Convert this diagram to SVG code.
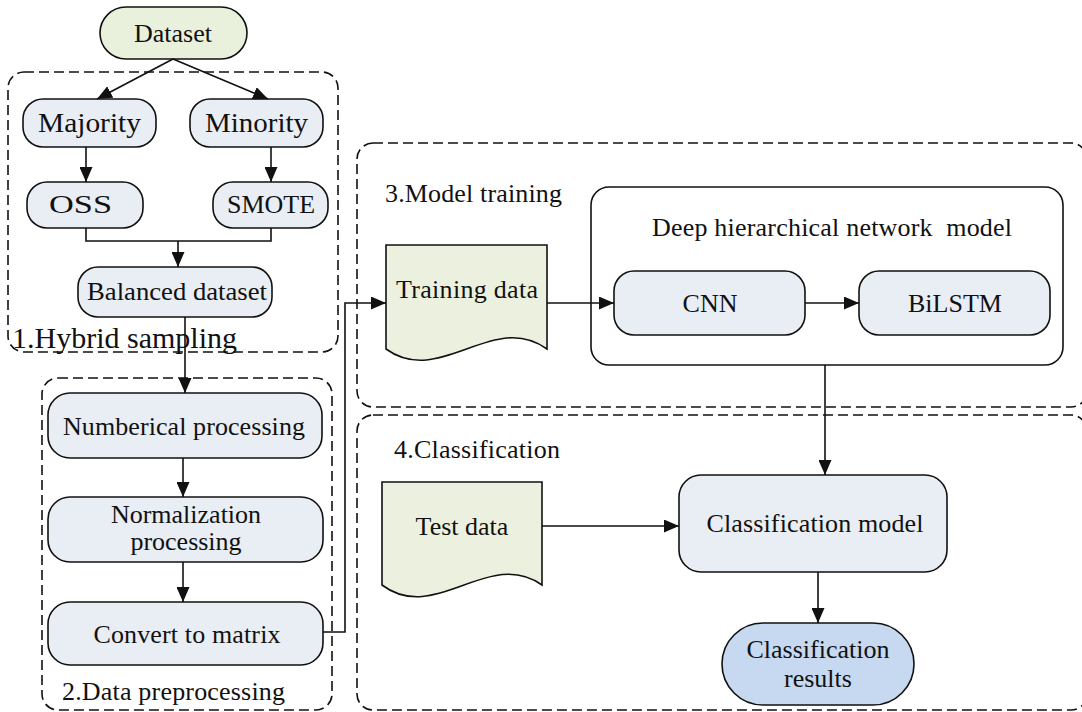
<svg xmlns="http://www.w3.org/2000/svg" width="1082" height="712" viewBox="0 0 1082 712">
<style>
text{font-family:"Liberation Serif","Times New Roman",serif;font-size:26px;fill:#111;text-anchor:middle}
.grp{fill:none;stroke:#111;stroke-width:1.6;stroke-dasharray:10 5}
.node{fill:#e9edf4;stroke:#111;stroke-width:1.6}
.green{fill:#e9f0dc;stroke:#111;stroke-width:1.6}
.doc{fill:#ebf1de;stroke:#111;stroke-width:1.6}
.res{fill:#c6d9f0;stroke:#111;stroke-width:1.6}
.plain{fill:#fff;stroke:#111;stroke-width:1.6}
.lbl{text-anchor:start}
.c{fill:none;stroke:#111;stroke-width:1.6}
</style>
<defs>
<marker id="ah" markerUnits="userSpaceOnUse" markerWidth="16" markerHeight="13" refX="15" refY="6.5" orient="auto">
<path d="M0,0 L15,6.5 L0,13 z" fill="#111"/>
</marker>
</defs>
<rect width="1082" height="712" fill="#fff"/>

<g id="group1"><rect class="grp" x="8" y="72" width="330" height="280" rx="16"/><text class="lbl" x="12" y="348" style="font-size:30px">1.Hybrid sampling</text></g>
<g id="group2"><rect class="grp" x="42" y="378" width="290" height="332" rx="16"/><text class="lbl" x="62" y="700" textLength="223">2.Data preprocessing</text></g>
<g id="group3"><rect class="grp" x="357" y="143" width="730" height="264" rx="16"/><text class="lbl" x="385" y="202" textLength="177">3.Model training</text></g>
<g id="group4"><rect class="grp" x="357" y="415" width="730" height="295" rx="16"/><text class="lbl" x="394" y="458" textLength="166">4.Classification</text></g>

<g id="dataset"><rect class="green" x="100" y="7" width="147" height="52" rx="26"/><text x="173" y="42">Dataset</text></g>
<g id="majority"><rect class="node" x="23" y="99" width="133" height="48" rx="20"/><text x="89.5" y="132" style="font-size:28px" textLength="103" lengthAdjust="spacingAndGlyphs">Majority</text></g>
<g id="minority"><rect class="node" x="190" y="99" width="133" height="48" rx="20"/><text x="256.5" y="132" style="font-size:28px" textLength="103" lengthAdjust="spacingAndGlyphs">Minority</text></g>
<g id="oss"><rect class="node" x="27" y="182" width="116" height="46" rx="20"/><text x="80.5" y="213" textLength="63" lengthAdjust="spacingAndGlyphs">OSS</text></g>
<g id="smote"><rect class="node" x="213" y="182" width="115" height="46" rx="20"/><text x="271" y="213" textLength="88" lengthAdjust="spacingAndGlyphs">SMOTE</text></g>
<g id="balanced"><rect class="node" x="78" y="267" width="194" height="50" rx="20"/><text x="177" y="300" style="font-size:25px" textLength="180" lengthAdjust="spacingAndGlyphs">Balanced dataset</text></g>

<g id="numerical"><rect class="node" x="48" y="393" width="274" height="65" rx="22"/><text x="184" y="435" textLength="242">Numberical processing</text></g>
<g id="normalization"><rect class="node" x="48" y="497" width="275" height="65" rx="22"/><text x="186" y="523">Normalization</text><text x="186" y="550">processing</text></g>
<g id="convert"><rect class="node" x="48" y="602" width="275" height="63" rx="22"/><text x="187" y="643" textLength="187">Convert to matrix</text></g>

<g id="training"><path class="doc" d="M386,245 H547 V349 C493,310 440,388 386,349 Z"/><text x="467" y="298" textLength="142">Training data</text></g>
<g id="deepmodel"><rect class="plain" x="591" y="187" width="472" height="178" rx="18"/><text x="832" y="236" textLength="360" xml:space="preserve">Deep hierarchical network  model</text></g>
<g id="cnn"><rect class="node" x="614" y="271" width="191" height="64" rx="20"/><text x="710" y="312">CNN</text></g>
<g id="bilstm"><rect class="node" x="859" y="271" width="191" height="64" rx="20"/><text x="955" y="312">BiLSTM</text></g>

<g id="testdata"><path class="doc" d="M382,482 H542 V585 C489,547 435,625 382,585 Z"/><text x="462" y="535">Test data</text></g>
<g id="classmodel"><rect class="node" x="679" y="475" width="268" height="97" rx="22"/><text x="815" y="532" textLength="217">Classification model</text></g>
<g id="results"><rect class="res" x="722" y="623" width="192" height="82" rx="41"/><text x="818" y="658">Classification</text><text x="818" y="687">results</text></g>

<g id="connectors">
<path class="c" d="M173,59 L97,99" marker-end="url(#ah)"/>
<path class="c" d="M173,59 L268,99" marker-end="url(#ah)"/>
<path class="c" d="M86,147 V182" marker-end="url(#ah)"/>
<path class="c" d="M271,147 V182" marker-end="url(#ah)"/>
<path class="c" d="M86,228 V241 H271 V228"/>
<path class="c" d="M178,241 V267" marker-end="url(#ah)"/>
<path class="c" d="M185,317 V393" marker-end="url(#ah)"/>
<path class="c" d="M183,458 V497" marker-end="url(#ah)"/>
<path class="c" d="M183,562 V602" marker-end="url(#ah)"/>
<path class="c" d="M323,632 H345 V303 H386" marker-end="url(#ah)"/>
<path class="c" d="M547,303 H614" marker-end="url(#ah)"/>
<path class="c" d="M805,303 H859" marker-end="url(#ah)"/>
<path class="c" d="M825,365 V475" marker-end="url(#ah)"/>
<path class="c" d="M542,526 H679" marker-end="url(#ah)"/>
<path class="c" d="M818,572 V623" marker-end="url(#ah)"/>
</g>
</svg>
